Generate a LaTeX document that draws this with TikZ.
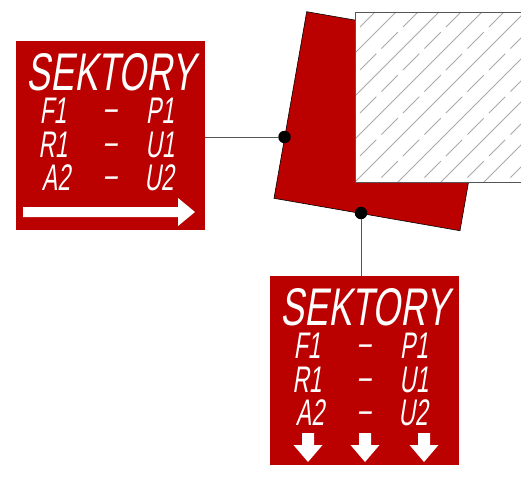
\documentclass[tikz,border=0pt]{standalone}
\usepackage{fontspec}
\newfontfamily\lcdfont[FakeStretch=0.67,FakeSlant=0.16]{Liberation Sans}
\newfontfamily\lcdsmall[FakeStretch=0.62,FakeSlant=0.16]{Liberation Sans}
\definecolor{sectorred}{HTML}{BB0000}
\definecolor{linegray}{HTML}{555555}
\definecolor{hatchgray}{HTML}{AAAAAA}
\newcommand{\RowOne}{123}
\newcommand{\RowTwo}{157}
\newcommand{\RowThree}{190}

\begin{document}
\begin{tikzpicture}[x=1pt,y=-1pt,
  signbox/.style={fill=sectorred,minimum size=189.5pt,inner sep=0pt},
  title/.style={text=white,inner sep=0pt,anchor=base,font=\lcdfont\fontsize{53}{53}\selectfont},
  entry/.style={text=white,inner sep=0pt,anchor=base,font=\lcdsmall\fontsize{37}{37}\selectfont},
  joint/.style={circle,fill=black,minimum size=12.5pt,inner sep=0pt},
  conn/.style={draw=linegray,line width=1pt},
  hatchline/.style={draw=hatchgray,line width=0.8pt}]
\useasboundingbox (0,0) rectangle (521,483);

% Profile
\fill[sectorred,draw=black,line width=0.6pt] (306.7,11.7) -- (274,198.3) -- (460,230.7) -- (492.7,44) -- cycle;

% Hatched wall
\fill[white] (355,12) rectangle (525,182);
\begin{scope}
\clip (355,12) rectangle (525,182);
\foreach \s in {408,451,...,709}
  \draw[hatchline] (355,\s-355) -- (555,\s-555);
\foreach \s in {387,430,...,690}
  \draw[hatchline,dash pattern=on 23pt off 7.4pt] (360,\s-360) -- (560,\s-560);
\end{scope}
\draw[conn] (525,12) -- (355,12) -- (355,182) -- (525,182);

% Sign boxes
\node[signbox] (boxa) at (110.5,135.7) {};
\node[signbox] (boxb) at (364.5,370.7) {};
\foreach \bx/\ox/\oy in {a/0/0,b/254/235} {
  \node[title] (title\bx) at (111+\ox,90+\oy) {SEKTORY};
  \foreach \rw/\ry/\lf/\lx/\rt/\rx in {f/\RowOne/F1/53/P1/160,r/\RowTwo/R1/53/U1/160,u/\RowThree/A2/56/U2/159} {
    \node[entry] (\rw left\bx)  at (\lx+\ox,\ry+\oy) {\lf};
    \node[entry] (\rw dash\bx)  at (110+\ox,\ry-3+\oy) {–};
    \node[entry] (\rw right\bx) at (\rx+\ox,\ry+\oy) {\rt};
  }
}

% Arrows
\fill[white] (23,207) -- (178,207) -- (178,198) -- (195,212) -- (178,226) -- (178,217) -- (23,217) -- cycle;
\foreach \ax in {308,365,424}
  \fill[white] (\ax-6,433) -- (\ax+6,433) -- (\ax+6,445) -- (\ax+14.5,445) -- (\ax,462) -- (\ax-14.5,445) -- (\ax-6,445) -- cycle;

% Joints
\node[joint] (dota) at (284.5,137) {};
\node[joint] (dotb) at (361,213) {};
\draw[conn] (boxa.east |- dota) -- (dota);
\draw[conn] (dotb) -- (boxb.north -| dotb);

\end{tikzpicture}
\end{document}
